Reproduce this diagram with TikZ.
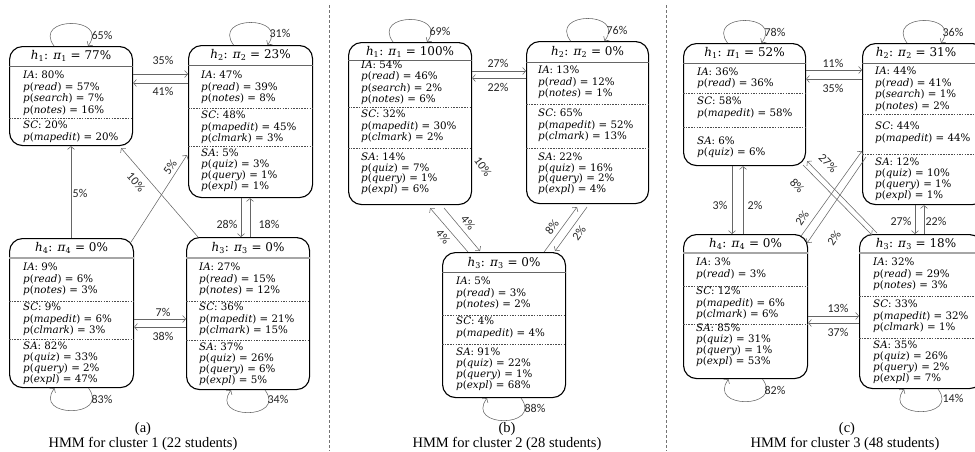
\documentclass[tikz,border=0pt]{standalone}
\usepackage{fontspec}
\setmainfont{DejaVu Serif}
\newfontfamily\labf{Carlito}
\newfontfamily\capf{Liberation Serif}
\usetikzlibrary{arrows.meta}
\newcommand\Tt[2]{\textit{h}\textsubscript{#1}: \textit{π}\textsubscript{#1} = #2\%}
\newcommand\Pp[2]{\textit{p}(\textit{#1}) = #2\%}
\newcommand\Gg[2]{\textit{#1}: #2\%}
\tikzset{
 hmm/.style={draw=black, line width=1.1pt, rounded corners=13pt, anchor=north west, inner sep=0},
 hdr/.style={draw=black!60, line width=0.8pt},
 hdrl/.style={draw=black!35, line width=1.6pt},
 sep/.style={draw=black!70, line width=0.4pt, dash pattern=on 1.5pt off 1.2pt},
 ttl/.style={font=\fontsize{12}{14}\selectfont, inner sep=0},
 sec/.style={anchor=north west, inner sep=0, align=left, font=\fontsize{10.3}{11.5}\selectfont},
 secm/.style={anchor=north west, inner sep=0, align=left, font=\fontsize{10.3}{11}\selectfont},
 sect/.style={anchor=north west, inner sep=0, align=left, font=\fontsize{10.3}{10.4}\selectfont},
 arr/.style={draw=black!60, line width=0.55pt, -{Straight Barb[length=3pt,width=7pt]}},
 lab/.style={font=\labf\fontsize{12}{14}\selectfont, inner sep=0, text=black!85},
 captxt/.style={font=\capf\fontsize{14.5}{16}\selectfont, inner sep=0},
 div/.style={draw=black!55, line width=0.6pt, dash pattern=on 3pt off 2pt},
}
\begin{document}
\begin{tikzpicture}[x=1pt, y=-1pt]
\useasboundingbox (0,0) rectangle (975,451);
% dividers
\draw[div] (329,5) -- (329,451);
\draw[div] (666,5) -- (666,451);

% ================= (a) =================
\node[hmm, minimum width=123pt, minimum height=99pt] (a1) at (9,46) {};
\node[hmm, minimum width=124pt, minimum height=152pt] (a2) at (188,45) {};
\node[hmm, minimum width=124pt, minimum height=149pt] (a4) at (9,238) {};
\node[hmm, minimum width=123pt, minimum height=152pt] (a3) at (186,237) {};
\node[ttl] (a1t) at (a1.center |- 0,56) {\Tt{1}{77}};
\node[ttl] (a2t) at (a2.center |- 0,55) {\Tt{2}{23}};
\node[ttl] (a4t) at (a4.center |- 0,248) {\Tt{4}{0}};
\node[ttl] (a3t) at (a3.center |- 0,248) {\Tt{3}{0}};
\draw[hdr] (a1.west |- 0,66) -- (a1.east |- 0,66);
\draw[hdr] (a2.west |- 0,65) -- (a2.east |- 0,65);
\draw[hdrl] (a4.west |- 0,258) -- (a4.east |- 0,258);
\draw[hdrl] (a3.west |- 0,258) -- (a3.east |- 0,258);
\draw[sep] (a1.west |- 0,118) -- (a1.east |- 0,118);
\draw[sep] (a2.west |- 0,108) -- (a2.east |- 0,108);
\draw[sep] (a2.west |- 0,146) -- (a2.east |- 0,146);
\draw[sep] (a4.west |- 0,301) -- (a4.east |- 0,301);
\draw[sep] (a4.west |- 0,339) -- (a4.east |- 0,339);
\draw[sep] (a3.west |- 0,301) -- (a3.east |- 0,301);
\draw[sep] (a3.west |- 0,340) -- (a3.east |- 0,340);
\node[sec] (a1s1) at (23,71) {\Gg{IA}{80}\\\Pp{read}{57}\\\Pp{search}{7}\\\Pp{notes}{16}};
\node[sec] (a1s2) at (23,121) {\Gg{SC}{20}\\\Pp{mapedit}{20}};
\node[sec] (a2s1) at (201,71) {\Gg{IA}{47}\\\Pp{read}{39}\\\Pp{notes}{8}};
\node[sec] (a2s2) at (201,111) {\Gg{SC}{48}\\\Pp{mapedit}{45}\\\Pp{clmark}{3}};
\node[secm] (a2s3) at (201,149) {\Gg{SA}{5}\\\Pp{quiz}{3}\\\Pp{query}{1}\\\Pp{expl}{1}};
\node[sec] (a4s1) at (23,263) {\Gg{IA}{9}\\\Pp{read}{6}\\\Pp{notes}{3}};
\node[sec] (a4s2) at (23,303) {\Gg{SC}{9}\\\Pp{mapedit}{6}\\\Pp{clmark}{3}};
\node[secm] (a4s3) at (23,342) {\Gg{SA}{82}\\\Pp{quiz}{33}\\\Pp{query}{2}\\\Pp{expl}{47}};
\node[sec] (a3s1) at (199,263) {\Gg{IA}{27}\\\Pp{read}{15}\\\Pp{notes}{12}};
\node[sec] (a3s2) at (199,303) {\Gg{SC}{36}\\\Pp{mapedit}{21}\\\Pp{clmark}{15}};
\node[secm] (a3s3) at (199,343) {\Gg{SA}{37}\\\Pp{quiz}{26}\\\Pp{query}{6}\\\Pp{expl}{5}};
% loops
\draw[arr] ([xshift=-17pt]a1.north) .. controls +(-22,-30) and +(22,-30) .. ([xshift=17pt]a1.north);
\draw[arr] ([xshift=-17pt]a2.north) .. controls +(-22,-30) and +(22,-30) .. ([xshift=17pt]a2.north);
\draw[arr] ([xshift=17pt]a4.south) .. controls +(22,30) and +(-22,30) .. ([xshift=-17pt]a4.south);
\draw[arr] ([xshift=17pt]a3.south) .. controls +(22,30) and +(-22,30) .. ([xshift=-17pt]a3.south);
\node[lab] (la1) at (102,35) {65\%};
\node[lab] (la2) at (280,33) {31\%};
\node[lab] (la4) at (102,399) {83\%};
\node[lab] (la3) at (278,399) {34\%};
% edges
\draw[arr] (a1.east |- 0,74) -- (a2.west |- 0,74);
\draw[arr] (a2.west |- 0,83) -- (a1.east |- 0,83);
\node[lab] (la12) at (163,60) {35\%};
\node[lab] (la21) at (163,91) {41\%};
\draw[arr] (71,0 |- a4.north) -- (71,0 |- a1.south);
\node[lab] (la41) at (80,193) {5\%};
\draw[arr] ([shift={(-3,4)}]a4.north east) -- ([shift={(-1,110)}]a2.north west);
\node[lab, rotate=55] (la42) at (170,167) {5\%};
\draw[arr] ([shift={(12,0)}]a3.north west) -- ([shift={(-12,2)}]a1.south east);
\node[lab, rotate=-49] (la31) at (136,182) {10\%};
\draw[arr] (241,0 |- a2.south) -- (241,0 |- a3.north);
\draw[arr] (250,0 |- a3.north) -- (250,0 |- a2.south);
\node[lab] (la23) at (227,224) {28\%};
\node[lab] (la32) at (269,224) {18\%};
\draw[arr] (a4.east |- 0,319) -- (a3.west |- 0,319);
\draw[arr] (a3.west |- 0,327) -- (a4.east |- 0,327);
\node[lab] (la43) at (163,312) {7\%};
\node[lab] (la34) at (163,336) {38\%};
\node[captxt] (capa1) at (143,429) {(a)};
\node[captxt] (capa2) at (143,444) {HMM for cluster 1 (22 students)};

% ================= (b) =================
\node[hmm, minimum width=123pt, minimum height=162pt] (b1) at (348,42) {};
\node[hmm, minimum width=122pt, minimum height=162pt] (b2) at (526,41) {};
\node[hmm, minimum width=123pt, minimum height=145pt] (b3) at (442,252) {};
\node[ttl] (b1t) at (b1.center |- 0,52) {\Tt{1}{100}};
\node[ttl] (b2t) at (b2.center |- 0,52) {\Tt{2}{0}};
\node[ttl] (b3t) at (b3.center |- 0,263) {\Tt{3}{0}};
\draw[hdr] (b1.west |- 0,60) -- (b1.east |- 0,60);
\draw[hdr] (b2.west |- 0,62) -- (b2.east |- 0,62);
\draw[hdr] (b3.west |- 0,272) -- (b3.east |- 0,272);
\draw[sep] (b1.west |- 0,107) -- (b1.east |- 0,107);
\draw[sep] (b1.west |- 0,148) -- (b1.east |- 0,148);
\draw[sep] (b2.west |- 0,104) -- (b2.east |- 0,104);
\draw[sep] (b2.west |- 0,148) -- (b2.east |- 0,148);
\draw[sep] (b3.west |- 0,315) -- (b3.east |- 0,315);
\draw[sep] (b3.west |- 0,344) -- (b3.east |- 0,344);
\node[sec] (b1s1) at (361,60.5) {\Gg{IA}{54}\\\Pp{read}{46}\\\Pp{search}{2}\\\Pp{notes}{6}};
\node[sec] (b1s2) at (361,110) {\Gg{SC}{32}\\\Pp{mapedit}{30}\\\Pp{clmark}{2}};
\node[sect] (b1s3) at (361,153) {\Gg{SA}{14}\\\Pp{quiz}{7}\\\Pp{query}{1}\\\Pp{expl}{6}};
\node[sec] (b2s1) at (538,66) {\Gg{IA}{13}\\\Pp{read}{12}\\\Pp{notes}{1}};
\node[sec] (b2s2) at (538,109) {\Gg{SC}{65}\\\Pp{mapedit}{52}\\\Pp{clmark}{13}};
\node[sect] (b2s3) at (538,153) {\Gg{SA}{22}\\\Pp{quiz}{16}\\\Pp{query}{2}\\\Pp{expl}{4}};
\node[sec] (b3s1) at (456,277) {\Gg{IA}{5}\\\Pp{read}{3}\\\Pp{notes}{2}};
\node[sec] (b3s2) at (456,317) {\Gg{SC}{4}\\\Pp{mapedit}{4}};
\node[secm] (b3s3) at (456,348) {\Gg{SA}{91}\\\Pp{quiz}{22}\\\Pp{query}{1}\\\Pp{expl}{68}};
\draw[arr] ([xshift=-17pt]b1.north) .. controls +(-22,-30) and +(22,-30) .. ([xshift=17pt]b1.north);
\draw[arr] ([xshift=-17pt]b2.north) .. controls +(-22,-30) and +(22,-30) .. ([xshift=17pt]b2.north);
\draw[arr] ([xshift=17pt]b3.south) .. controls +(22,30) and +(-22,30) .. ([xshift=-17pt]b3.south);
\node[lab] (lb1) at (440,31) {69\%};
\node[lab] (lb2) at (617,30) {76\%};
\node[lab] (lb3) at (535,408) {88\%};
\draw[arr] (b1.east |- 0,71) -- (b2.west |- 0,71);
\draw[arr] (b2.west |- 0,78) -- (b1.east |- 0,78);
\node[lab] (lb12) at (498,63) {27\%};
\node[lab] (lb21) at (498,87) {22\%};
\node[lab, rotate=-55] (lb10) at (483,167) {10\%};
\draw[arr] ([shift={(26,0)}]b3.north west) -- ([shift={(-42,3)}]b1.south east);
\draw[arr] ([shift={(-28,3)}]b1.south east) -- ([shift={(38,-1)}]b3.north west);
\node[lab, rotate=-50] (lb31) at (443,237) {4\%};
\node[lab, rotate=-50] (lb13) at (468,223) {4\%};
\draw[arr] ([shift={(-22,0)}]b3.north east) -- ([shift={(51,3)}]b2.south west);
\draw[arr] ([shift={(61,3)}]b2.south west) -- ([shift={(-11,-1)}]b3.north east);
\node[lab, rotate=53] (lb32) at (552,227) {8\%};
\node[lab, rotate=53] (lb23) at (579,233) {2\%};
\node[captxt] (capb1) at (507,429) {(b)};
\node[captxt] (capb2) at (507,444) {HMM for cluster 2 (28 students)};

% ================= (c) =================
\node[hmm, minimum width=122pt, minimum height=122pt] (c1) at (683,43) {};
\node[hmm, minimum width=123pt, minimum height=161pt] (c2) at (862,43) {};
\node[hmm, minimum width=124pt, minimum height=144pt] (c4) at (683,234) {};
\node[hmm, minimum width=123pt, minimum height=154pt] (c3) at (859,234) {};
\node[ttl] (c1t) at (c1.center |- 0,53) {\Tt{1}{52}};
\node[ttl] (c2t) at (916,53) {\Tt{2}{31}};
\node[ttl] (c4t) at (c4.center |- 0,244) {\Tt{4}{0}};
\node[ttl] (c3t) at (916,244) {\Tt{3}{18}};
\draw[hdr] (c1.west |- 0,63) -- (c1.east |- 0,63);
\draw[hdr] (c2.west |- 0,63) -- (c2.east |- 0,63);
\draw[hdrl] (c4.west |- 0,253) -- (c4.east |- 0,253);
\draw[hdrl] (c3.west |- 0,253) -- (c3.east |- 0,253);
\draw[sep] (c1.west |- 0,93) -- (c1.east |- 0,93);
\draw[sep] (c1.west |- 0,127) -- (c1.east |- 0,127);
\draw[sep] (c2.west |- 0,114) -- (c2.east |- 0,114);
\draw[sep] (c2.west |- 0,154) -- (c2.east |- 0,154);
\draw[sep] (c4.west |- 0,286) -- (c4.east |- 0,286);
\draw[sep] (c4.west |- 0,324) -- (c4.east |- 0,324);
\draw[sep] (c3.west |- 0,296) -- (c3.east |- 0,296);
\draw[sep] (c3.west |- 0,338) -- (c3.east |- 0,338);
\node[sect] (c1s1) at (697,68) {\Gg{IA}{36}\\\Pp{read}{36}};
\node[sec] (c1s2) at (697,97) {\Gg{SC}{58}\\[0.5pt]\Pp{mapedit}{58}};
\node[secm] (c1s3) at (697,137) {\Gg{SA}{6}\\\Pp{quiz}{6}};
\node[sec] (c2s1) at (875,67) {\Gg{IA}{44}\\\Pp{read}{41}\\\Pp{search}{1}\\\Pp{notes}{2}};
\node[sec] (c2s2) at (875,122) {\Gg{SC}{44}\\[0.5pt]\Pp{mapedit}{44}};
\node[secm] (c2s3) at (875,158) {\Gg{SA}{12}\\\Pp{quiz}{10}\\\Pp{query}{1}\\\Pp{expl}{1}};
\node[sec] (c4s1) at (696,258) {\Gg{IA}{3}\\\Pp{read}{3}};
\node[sec] (c4s2) at (696,287) {\Gg{SC}{12}\\\Pp{mapedit}{6}\\\Pp{clmark}{6}};
\node[secm] (c4s3) at (696,324) {\Gg{SA}{85}\\\Pp{quiz}{31}\\\Pp{query}{1}\\\Pp{expl}{53}};
\node[sec] (c3s1) at (873,258) {\Gg{IA}{32}\\\Pp{read}{29}\\\Pp{notes}{3}};
\node[sec] (c3s2) at (873,300) {\Gg{SC}{33}\\\Pp{mapedit}{32}\\\Pp{clmark}{1}};
\node[secm] (c3s3) at (873,341) {\Gg{SA}{35}\\\Pp{quiz}{26}\\\Pp{query}{2}\\\Pp{expl}{7}};
\draw[arr] ([xshift=-17pt]c1.north) .. controls +(-22,-30) and +(22,-30) .. ([xshift=17pt]c1.north);
\draw[arr] ([xshift=-17pt]c2.north) .. controls +(-22,-30) and +(22,-30) .. ([xshift=17pt]c2.north);
\draw[arr] ([xshift=17pt]c4.south) .. controls +(22,30) and +(-22,30) .. ([xshift=-17pt]c4.south);
\draw[arr] ([xshift=17pt]c3.south) .. controls +(22,30) and +(-22,30) .. ([xshift=-17pt]c3.south);
\node[lab] (lc1) at (775,32) {78\%};
\node[lab] (lc2) at (953,32) {36\%};
\node[lab] (lc4) at (775,390) {82\%};
\node[lab] (lc3) at (953,398) {14\%};
\draw[arr] (c1.east |- 0,70) -- (c2.west |- 0,70);
\draw[arr] (c2.west |- 0,79) -- (c1.east |- 0,79);
\node[lab] (lc12) at (833,63) {11\%};
\node[lab] (lc21) at (833,88) {35\%};
\draw[arr] (732,0 |- c1.south) -- (732,0 |- c4.north);
\draw[arr] (743,0 |- c4.north) -- (743,0 |- c1.south);
\node[lab] (lc14) at (720,205) {3\%};
\node[lab] (lc41) at (755,205) {2\%};
\draw[arr] (915,0 |- c2.south) -- (915,0 |- c3.north);
\draw[arr] (924,0 |- c3.north) -- (924,0 |- c2.south);
\node[lab] (lc23) at (901,221) {27\%};
\node[lab] (lc32) at (936,221) {22\%};
\draw[arr] (c4.east |- 0,316) -- (c3.west |- 0,316);
\draw[arr] (c3.west |- 0,323) -- (c4.east |- 0,323);
\node[lab] (lc43) at (838,308) {13\%};
\node[lab] (lc34) at (838,332) {37\%};
% crossing
\draw[arr] ([shift={(18,-1)}]c3.north west) -- ([shift={(1,-5)}]c1.south east);
\draw[arr] ([shift={(-3,-1)}]c1.south east) -- ([shift={(13,1)}]c3.north west);
\node[lab, rotate=-46] (lc31) at (828,163) {27\%};
\node[lab, rotate=-46] (lc13) at (797,186) {8\%};
\draw[arr] ([shift={(-7,2)}]c4.north east) -- ([shift={(0,108)}]c2.north west);
\draw[arr] ([shift={(4,114)}]c2.north west) -- ([shift={(-1,9)}]c4.north east);
\node[lab, rotate=55] (lc42) at (802,218) {2\%};
\node[lab, rotate=55] (lc24) at (834,238) {2\%};
\node[captxt] (capc1) at (847,429) {(c)};
\node[captxt] (capc2) at (845,444) {HMM for cluster 3 (48 students)};
\end{tikzpicture}
\end{document}
